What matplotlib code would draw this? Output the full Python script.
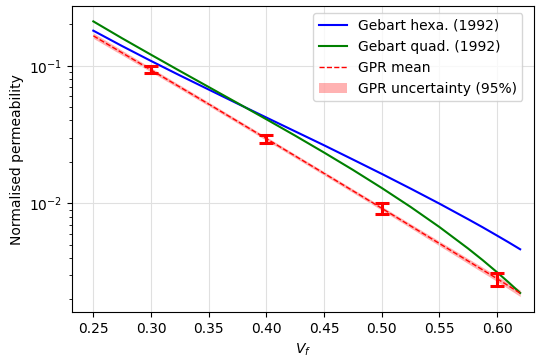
import numpy as np
import matplotlib
matplotlib.use("Agg")
import matplotlib.pyplot as plt

# Fibre volume fraction grid for the analytical curves
vf = [0.25, 0.275, 0.30, 0.325, 0.35, 0.375, 0.40, 0.425, 0.45, 0.475,
      0.50, 0.525, 0.55, 0.575, 0.5875, 0.60, 0.61, 0.62]

# Gebart (1992) normalised permeability, hexagonal and quadratic packing
k_hexa = [0.1798, 0.1389, 0.1083, 0.0850, 0.0671, 0.0530, 0.0420, 0.0333,
          0.0264, 0.0208, 0.01636, 0.01279, 0.00994, 0.00765, 0.00669,
          0.00582, 0.00520, 0.00463]
k_quad = [0.2100, 0.1582, 0.1202, 0.0916, 0.0700, 0.0535, 0.0408, 0.0310,
          0.02338, 0.01749, 0.01292, 0.00941, 0.00672, 0.00468, 0.00386,
          0.00315, 0.00266, 0.00223]

# GPR prediction
vf_gpr = [0.25, 0.30, 0.35, 0.40, 0.45, 0.50, 0.55, 0.60, 0.62]
gpr_mean = [0.165, 0.0932, 0.0526, 0.0295, 0.0165, 0.0092, 0.0051, 0.00283, 0.00222]
gpr_lo = [0.158, 0.0900, 0.0510, 0.0286, 0.0160, 0.0089, 0.0049, 0.00270, 0.00210]
gpr_hi = [0.173, 0.0966, 0.0543, 0.0304, 0.0170, 0.0095, 0.0053, 0.00296, 0.00234]

# Measured data with error bars
vf_exp = [0.30, 0.40, 0.50, 0.60]
k_exp = [0.094, 0.0294, 0.0092, 0.0028]
k_exp_err = [0.006, 0.0021, 0.0009, 0.0003]

fig = plt.figure(figsize=(5.36, 3.6), dpi=100)
ax = fig.add_axes([0.1343, 0.1333, 0.862, 0.849])

ax.plot(vf, k_hexa, color="blue", lw=1.5, label="Gebart hexa. (1992)")
ax.plot(vf, k_quad, color="green", lw=1.5, label="Gebart quad. (1992)")
ax.plot(vf_gpr, gpr_mean, color="red", ls="--", lw=1.0, label="GPR mean")
ax.fill_between(vf_gpr, gpr_lo, gpr_hi, color="red", alpha=0.3, lw=0,
                label="GPR uncertainty (95%)")
ax.errorbar(vf_exp, k_exp, yerr=k_exp_err, fmt="none", ecolor="red",
            elinewidth=2.2, capsize=5, capthick=2.2)

ax.set_yscale("log")
ax.set_xlim(0.2315, 0.632)
ax.set_ylim(0.00162, 0.27)
ax.set_xticks(np.arange(0.25, 0.601, 0.05))
ax.grid(True, which="major", color="#e0e0e0", lw=0.8)
ax.set_xlabel("$V_f$")
ax.set_ylabel("Normalised permeability")
ax.legend(loc="upper right", bbox_to_anchor=(0.99, 1.0))

fig.savefig("out.png", dpi=100)
